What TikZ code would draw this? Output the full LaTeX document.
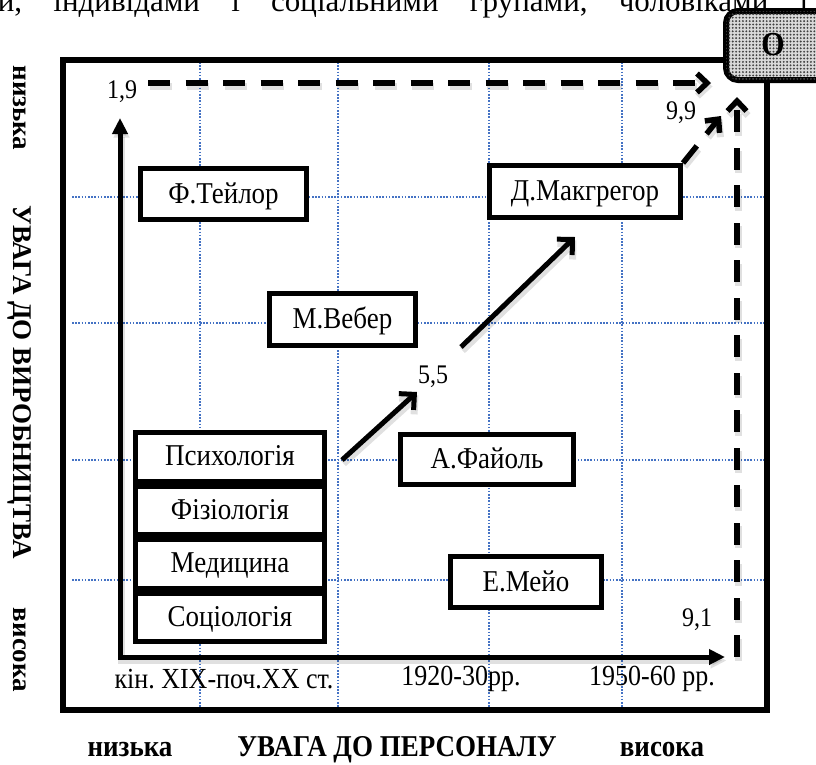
\documentclass[tikz,border=0pt]{standalone}
\usepackage{fontspec}
\setmainfont{Liberation Serif}
\usetikzlibrary{arrows.meta,patterns}
\definecolor{gridblue}{RGB}{68,114,196}
\frenchspacing
% slightly tall lettering
\newcommand{\vstretch}[1]{\scalebox{1}[1.12]{#1}}
% dense dot screen for the corner box
\pgfdeclarepatternformonly{odots}{\pgfqpoint{-0.1pt}{-0.1pt}}{\pgfqpoint{3.5pt}{3.5pt}}{\pgfqpoint{3.4pt}{3.4pt}}%
  {\pgfpathcircle{\pgfqpoint{1.7pt}{1.7pt}}{1.05pt}\pgfusepath{fill}}

\tikzset{
  gridline/.style={gridblue, line width=1.6pt, dash pattern=on 1.6pt off 1.6pt},
  framebox/.style={line width=6pt},
  labelbox/.style={draw, fill=white, line width=5pt, inner sep=0pt,
    font=\fontsize{27}{31}\selectfont, text height=19pt, text depth=1pt},
  numlabel/.style={inner sep=0pt, font=\fontsize{24}{28}\selectfont},
  axislabel/.style={inner sep=0pt, font=\fontsize{26}{30}\selectfont},
  boldlabel/.style={inner sep=0pt, font=\bfseries\fontsize{27}{31}\selectfont},
  % faint offset shade under the heavy lines
  softshade/.style={preaction={draw=black, opacity=0.12, line width=7pt,
    transform canvas={shift={(1.5pt,-3.5pt)}}}},
  dashshade/.style={preaction={draw=black, opacity=0.12, line width=7pt,
    dash pattern=on 22pt off 15.5pt,
    transform canvas={shift={(1.5pt,-3.5pt)}}}},
  axisline/.style={line width=5pt, softshade,
    {Triangle[length=16pt,width=15pt]}-{Triangle[length=16pt,width=15pt]}},
  trendarrow/.style={line width=5pt, softshade, -{Straight Barb[length=11pt,width=22pt]}},
  dasharrow/.style={line width=5.5pt, dashshade, dash pattern=on 22pt off 15.5pt,
    -{Straight Barb[length=10pt,width=19pt]}},
  obox/.style={draw, line width=6pt, rounded corners=12pt, fill=gray!30,
    postaction={pattern=odots, pattern color=black!75}},
}

\begin{document}
\begin{tikzpicture}[x=1pt,y=-1pt]
\useasboundingbox (0,0) rectangle (816,764);

% running text line above the figure
\node[anchor=base west, inner sep=0pt, font=\fontsize{31}{35}\selectfont] (textline) at (-22,11)
  {\makebox[830pt][s]{ми, індивідами і соціальними групами, чоловіками і}};

% dotted grid
\foreach \y in {197,323,460,580}
  \draw[gridline] (72,\y) -- (765,\y);
\foreach \x in {200,338,489,622}
  \draw[gridline] (\x,62) -- (\x,708);

% outer frame
\draw[framebox] (63,60) rectangle (767,710);

% schools and authors
\node[labelbox, minimum width=166pt, minimum height=51pt] (taylor) at (223.5,194) {\vstretch{Ф.Тейлор}};
\node[labelbox, minimum width=191pt, minimum height=52pt] (mac) at (585,191.5) {\vstretch{Д.Макгрегор}};
\node[labelbox, minimum width=146pt, minimum height=52pt] (weber) at (342.5,319) {\vstretch{М.Вебер}};
\node[labelbox, minimum width=173pt, minimum height=50pt] (fayol) at (487,459.5) {\vstretch{А.Файоль}};
\node[labelbox, minimum width=151pt, minimum height=51pt] (mayo) at (526,582) {\vstretch{Е.Мейо}};

\node[labelbox, minimum width=189pt, minimum height=48.5pt] (psy) at (230,456.75) {\vstretch{Психологія}};
\node[labelbox, minimum width=189pt, minimum height=48.5pt] (phys) at (230,510.25) {\vstretch{Фізіологія}};
\node[labelbox, minimum width=189pt, minimum height=48.5pt] (med) at (230,563.75) {\vstretch{Медицина}};
\node[labelbox, minimum width=189pt, minimum height=48.5pt] (soc) at (230,617.25) {\vstretch{Соціологія}};

% axes
\coordinate (org) at (120,657);
\coordinate (ytip) at (120,118);
\coordinate (xtip) at (725,657);
\draw[axisline] (ytip) -- (org) -- (xtip);

% trend arrows
\coordinate (t1s) at (342,460);
\coordinate (t1e) at (417,392);
\coordinate (t2s) at (461,347);
\coordinate (t2e) at (575,237);
\draw[trendarrow] (t1s) -- (t1e);
\draw[trendarrow] (t2s) -- (t2e);

% dashed arrows towards the optimum
\coordinate (h0) at (148,83);
\coordinate (h1) at (711,83);
\coordinate (v0) at (737,657);
\coordinate (v1) at (737,97);
\coordinate (d1) at (721,116);
\draw[dasharrow] (h0) -- (h1);
\draw[dasharrow] (v0) -- (v1);
\draw[dasharrow] (mac.north east) -- (d1);

% optimum box
\node[obox, minimum width=120pt, minimum height=69pt] (opt) at (786,45.5) {};
\node[inner sep=0pt, font=\bfseries\fontsize{30}{34}\selectfont] (optlabel) at (773,45) {\vstretch{O}};

% point values
\node[numlabel] (p19) at (122,92) {\vstretch{1,9}};
\node[numlabel] (p99) at (681,113) {\vstretch{9,9}};
\node[numlabel] (p91) at (697,620) {\vstretch{9,1}};
\node[numlabel] (p55) at (433,377) {\vstretch{5,5}};

% period labels
\node[axislabel] (per1) at (224,679) {\vstretch{кін. ХІХ-поч.ХХ ст.}};
\node[axislabel] (per2) at (461,679) {\vstretch{1920-30рр.}};
\node[axislabel] (per3) at (652,679) {\vstretch{1950-60 рр.}};

% axis titles
\node[boldlabel] (xlow) at (130,750) {\vstretch{низька}};
\node[boldlabel] (xtitle) at (397,750) {\vstretch{УВАГА ДО ПЕРСОНАЛУ}};
\node[boldlabel] (xhigh) at (662,750) {\vstretch{висока}};
\node[boldlabel, rotate=-90] (ylow) at (20,108) {низька};
\node[boldlabel, rotate=-90] (ytitle) at (20,382) {УВАГА ДО ВИРОБНИЦТВА};
\node[boldlabel, rotate=-90] (yhigh) at (20,650) {висока};
\end{tikzpicture}
\end{document}
